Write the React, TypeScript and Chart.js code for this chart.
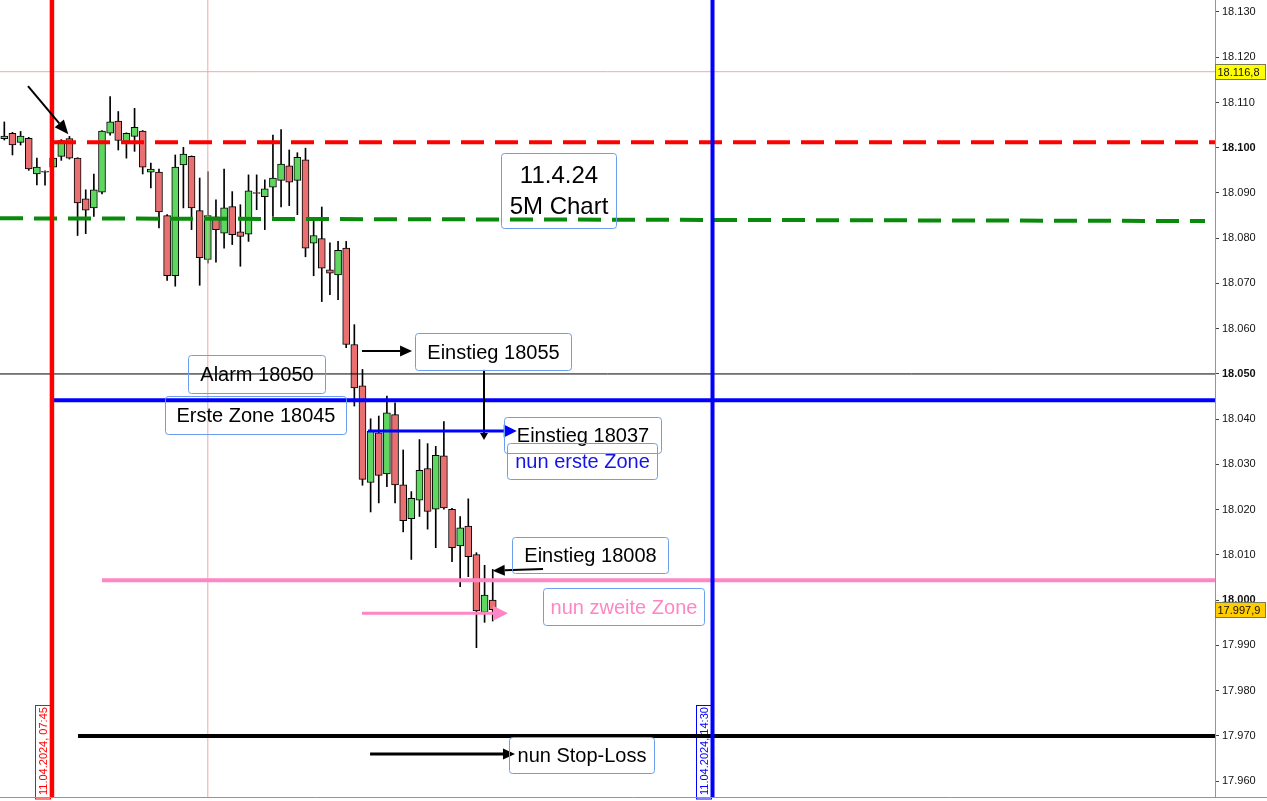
import { useEffect, useRef } from "react";
import { Chart, registerables } from "chart.js";

Chart.register(...registerables);

const FONT = '"Liberation Sans", Arial, Helvetica, sans-serif';

// 5-minute candles of 11.04.2024, first candle 07:15
const opens = [
  18102.0, 18103.2, 18101.2, 18102.1, 18094.2, 18094.8, 18095.7, 18098.1, 18102.0, 18097.7,
  18088.7, 18086.7, 18090.2, 18103.2, 18105.9, 18101.4, 18102.5, 18103.7, 18094.6, 18094.6,
  18085.0, 18071.7, 18096.2, 18098.1, 18086.1, 18075.3, 18084.7, 18081.1, 18087.0, 18081.4,
  18080.9, 18090.1, 18089.2, 18091.3, 18092.8, 18096.0, 18092.8, 18097.3, 18078.9, 18079.9,
  18073.0, 18071.9, 18077.8, 18056.5, 18047.4, 18026.0, 18037.0, 18027.9, 18041.0, 18025.5,
  18018.0, 18022.1, 18029.1, 18020.1, 18031.9, 18020.1, 18012.0, 18016.4, 18010.1, 17997.3,
  18000.0,
];
const highs = [
  18105.7, 18103.4, 18103.6, 18102.3, 18097.7, 18094.9, 18098.2, 18101.8, 18102.5, 18097.8,
  18090.7, 18094.2, 18103.8, 18111.3, 18108.0, 18103.3, 18108.7, 18103.8, 18096.6, 18095.3,
  18085.2, 18098.4, 18100.1, 18098.2, 18093.3, 18094.7, 18088.5, 18095.3, 18090.3, 18087.4,
  18094.0, 18094.0, 18092.9, 18102.8, 18104.0, 18099.5, 18098.9, 18099.9, 18084.1, 18086.9,
  18079.0, 18079.3, 18079.3, 18060.9, 18051.0, 18040.1, 18040.7, 18045.1, 18043.6, 18033.2,
  18024.0, 18035.5, 18034.6, 18034.0, 18039.5, 18020.3, 18018.5, 18022.4, 18010.5, 18007.7,
  18006.8,
];
const lows = [
  18101.7, 18098.4, 18100.6, 18095.0, 18091.8, 18091.7, 18095.3, 18097.2, 18097.5, 18080.6,
  18081.0, 18084.8, 18089.8, 18102.8, 18099.5, 18097.7, 18099.2, 18094.2, 18091.1, 18082.3,
  18070.7, 18069.4, 18086.7, 18081.9, 18069.6, 18074.5, 18074.7, 18077.8, 18078.6, 18073.8,
  18079.3, 18086.3, 18081.9, 18084.8, 18086.9, 18087.2, 18085.2, 18075.9, 18071.7, 18066.0,
  18067.5, 18066.4, 18055.8, 18042.9, 18025.4, 18019.5, 18021.5, 18025.1, 18021.5, 18015.1,
  18009.0, 18018.5, 18015.7, 18011.6, 18020.1, 18008.5, 18003.0, 18005.2, 17989.5, 17995.1,
  17995.4,
];
const closes = [
  18102.6, 18100.6, 18102.6, 18095.3, 18095.7, 18094.6, 18097.7, 18101.6, 18097.7, 18087.8,
  18086.2, 18090.7, 18103.7, 18105.7, 18101.6, 18103.2, 18104.5, 18095.7, 18095.3, 18085.8,
  18071.7, 18095.7, 18098.6, 18086.7, 18075.7, 18085.0, 18081.9, 18086.7, 18080.8, 18080.4,
  18090.5, 18089.9, 18090.9, 18093.3, 18096.4, 18092.4, 18097.9, 18077.8, 18080.6, 18073.4,
  18072.3, 18077.3, 18056.5, 18046.9, 18026.7, 18037.4, 18027.6, 18041.4, 18025.5, 18017.6,
  18022.5, 18028.7, 18019.6, 18032.0, 18020.4, 18011.6, 18016.0, 18009.6, 17997.6, 18001.1,
  17997.9,
];

// visible value window and candle-index window
const yMin = 17956.5;
const yMax = 18132.65;
const yStep = 10;
const xMin = -0.53;
const xMax = 148.73;

// horizontal levels
const levelRed = 18101.2;
const levelGreenStart = 18084.4;
const levelGreenEnd = 18083.8;
const levelAlarm = 18050;
const levelFirstZone = 18044.2;
const levelSecondZone = 18004.4;
const levelStopLoss = 17970;
const levelDayHigh = 18116.8;
const lastPrice = 17997.9;

// time markers (candle index) and their labels
const markerIdx = [5.85, 87];
const markerLabels = ["11.04.2024, 07:45", "11.04.2024, 14:30"];
const markerColors = ["#ff0000", "#0000ff"];
const crosshairIdx = 25;

const GREEN = "#5fd65f";
const RED = "#e87070";
const PINK = "#ff86c4";
const BOX_BORDER = "#6c9ef0";

type Note = { lines: string[]; x0: number; x1: number; y0: number; y1: number; color: string; size: number };
const notes: Note[] = [
  { lines: ["11.4.24", "5M Chart"], x0: 60.98, x1: 75.11, y0: 18098.9, y1: 18082.2, color: "#000", size: 24 },
  { lines: ["Einstieg 18055"], x0: 50.45, x1: 69.62, y0: 18059.0, y1: 18050.9, color: "#000", size: 20 },
  { lines: ["Alarm 18050"], x0: 22.57, x1: 39.4, y0: 18054.2, y1: 18045.8, color: "#000", size: 20 },
  { lines: ["Erste Zone 18045"], x0: 19.74, x1: 41.98, y0: 18045.1, y1: 18036.7, color: "#000", size: 20 },
  { lines: ["Einstieg 18037"], x0: 61.39, x1: 80.68, y0: 18040.5, y1: 18032.6, color: "#000", size: 20 },
  { lines: ["nun erste Zone"], x0: 61.72, x1: 80.22, y0: 18034.8, y1: 18026.8, color: "#1414e6", size: 20 },
  { lines: ["Einstieg 18008"], x0: 62.33, x1: 81.57, y0: 18014.0, y1: 18005.9, color: "#000", size: 20 },
  { lines: ["nun zweite Zone"], x0: 66.14, x1: 85.99, y0: 18002.8, y1: 17994.6, color: PINK, size: 20 },
  { lines: ["nun Stop-Loss"], x0: 62.0, x1: 79.82, y0: 17969.7, y1: 17961.7, color: "#000", size: 20 },
];

type Arrow = { from: [number, number]; to: [number, number]; color: string; width: number; head: number; headW: number };
const arrows: Arrow[] = [
  { from: [2.91, 18113.6], to: [7.86, 18103.0], color: "#000", width: 2, head: 14, headW: 12 },
  { from: [43.94, 18055.1], to: [50.09, 18055.1], color: "#000", width: 2, head: 12, headW: 11 },
  { from: [58.93, 18050.9], to: [58.93, 18035.4], color: "#000", width: 2, head: 7, headW: 8 },
  { from: [44.68, 18037.4], to: [62.95, 18037.4], color: "#0000ff", width: 3, head: 13, headW: 13 },
  { from: [66.18, 18006.9], to: [60.0, 18006.5], color: "#000", width: 2, head: 12, headW: 11 },
  { from: [43.94, 17997.1], to: [61.88, 17997.1], color: PINK, width: 3, head: 15, headW: 15 },
  { from: [44.93, 17966.0], to: [62.74, 17966.0], color: "#000", width: 3, head: 12, headW: 11 },
];

const thousands = (s: string) => s.replace(/\B(?=(\d{3})+(?!\d))/g, ".");
const fmtTick = (v: number) => thousands(String(Math.round(v)));
const fmtPrice = (v: number) => {
  const [i, d] = v.toFixed(1).split(".");
  return thousands(i) + "," + d;
};

function drawArrow(ctx: CanvasRenderingContext2D, x1: number, y1: number, x2: number, y2: number, a: Arrow) {
  const ang = Math.atan2(y2 - y1, x2 - x1);
  const bx = x2 - a.head * Math.cos(ang);
  const by = y2 - a.head * Math.sin(ang);
  ctx.strokeStyle = a.color;
  ctx.lineWidth = a.width;
  ctx.lineCap = "butt";
  ctx.beginPath();
  ctx.moveTo(x1, y1);
  ctx.lineTo(bx, by);
  ctx.stroke();
  ctx.fillStyle = a.color;
  ctx.beginPath();
  ctx.moveTo(x2, y2);
  ctx.lineTo(bx + (a.headW / 2) * Math.sin(ang), by - (a.headW / 2) * Math.cos(ang));
  ctx.lineTo(bx - (a.headW / 2) * Math.sin(ang), by + (a.headW / 2) * Math.cos(ang));
  ctx.closePath();
  ctx.fill();
}

function roundRect(ctx: CanvasRenderingContext2D, x: number, y: number, w: number, h: number, r: number) {
  ctx.beginPath();
  ctx.moveTo(x + r, y);
  ctx.lineTo(x + w - r, y);
  ctx.arcTo(x + w, y, x + w, y + r, r);
  ctx.lineTo(x + w, y + h - r);
  ctx.arcTo(x + w, y + h, x + w - r, y + h, r);
  ctx.lineTo(x + r, y + h);
  ctx.arcTo(x, y + h, x, y + h - r, r);
  ctx.lineTo(x, y + r);
  ctx.arcTo(x, y, x + r, y, r);
  ctx.closePath();
}

const notesPlugin = {
  id: "chartNotes",
  beforeDatasetsDraw(chart: any) {
    const { ctx, scales, chartArea } = chart;
    const xs = scales.x;
    const ys = scales.y;
    ctx.save();
    markerIdx.forEach((idx, k) => {
      const lx = xs.getPixelForValue(idx);
      const top = Math.round(ys.getPixelForValue(17976.8)) + 0.5;
      const bottom = chartArea.bottom;
      const left = Math.round(lx) - 16.5;
      ctx.fillStyle = "#fff";
      ctx.fillRect(left, top, 15, bottom - top);
      ctx.strokeStyle = markerColors[k];
      ctx.lineWidth = 1;
      ctx.strokeRect(left, top, 15, bottom - top + 2);
      ctx.translate(left + 8, bottom - 2);
      ctx.rotate(-Math.PI / 2);
      ctx.fillStyle = markerColors[k];
      ctx.font = `11px ${FONT}`;
      ctx.textAlign = "left";
      ctx.textBaseline = "middle";
      ctx.fillText(markerLabels[k], 0, 0);
      ctx.setTransform(1, 0, 0, 1, 0, 0);
    });
    ctx.restore();
  },
  afterDatasetsDraw(chart: any) {
    const { ctx, scales } = chart;
    const xs = scales.x;
    const ys = scales.y;
    ctx.save();
    arrows.forEach((a) => {
      drawArrow(
        ctx,
        xs.getPixelForValue(a.from[0]),
        ys.getPixelForValue(a.from[1]),
        xs.getPixelForValue(a.to[0]),
        ys.getPixelForValue(a.to[1]),
        a
      );
    });
    notes.forEach((n) => {
      const x0 = Math.round(xs.getPixelForValue(n.x0)) + 0.5;
      const x1 = Math.round(xs.getPixelForValue(n.x1)) + 0.5;
      const y0 = Math.round(ys.getPixelForValue(n.y0)) + 0.5;
      const y1 = Math.round(ys.getPixelForValue(n.y1)) + 0.5;
      ctx.strokeStyle = BOX_BORDER;
      ctx.lineWidth = 1;
      roundRect(ctx, x0, y0, x1 - x0, y1 - y0, 3);
      ctx.stroke();
      ctx.fillStyle = n.color;
      ctx.font = `${n.size}px ${FONT}`;
      ctx.textAlign = "center";
      ctx.textBaseline = "middle";
      const cx = (x0 + x1) / 2;
      const cy = (y0 + y1) / 2 + 1;
      const lh = n.size * 1.32;
      n.lines.forEach((t, i) => {
        ctx.fillText(t, cx, cy + (i - (n.lines.length - 1) / 2) * lh);
      });
    });
    ctx.restore();
  },
  afterDraw(chart: any) {
    const { ctx, scales, chartArea, width } = chart;
    const ys = scales.y;
    ctx.save();
    // bottom border of the price pane
    ctx.strokeStyle = "#8a98a6";
    ctx.lineWidth = 1;
    ctx.beginPath();
    ctx.moveTo(0, chartArea.bottom + 0.5);
    ctx.lineTo(width, chartArea.bottom + 0.5);
    ctx.stroke();
    // price tags on the axis
    const tags: [number, string][] = [
      [levelDayHigh, "#ffff00"],
      [lastPrice, "#ffcc00"],
    ];
    tags.forEach(([v, fill]) => {
      const y = Math.round(ys.getPixelForValue(v));
      const x = chartArea.right + 0.5;
      ctx.fillStyle = fill;
      ctx.fillRect(x, y - 7.5, 50, 15);
      ctx.strokeStyle = "#7a7a50";
      ctx.strokeRect(x, y - 7.5, 50, 15);
      ctx.fillStyle = "#111";
      ctx.font = `11px ${FONT}`;
      ctx.textAlign = "left";
      ctx.textBaseline = "middle";
      ctx.fillText(fmtPrice(v), x + 2, y + 0.5);
    });
    ctx.restore();
  },
};

const hLine = (x0: number, y0: number, x1: number, y1: number, color: string, width: number, dash: number[] = [], order = 1) => ({
  type: "line" as const,
  data: [
    { x: x0, y: y0 },
    { x: x1, y: y1 },
  ],
  borderColor: color,
  borderWidth: width,
  borderDash: dash,
  borderCapStyle: "butt" as const,
  pointRadius: 0,
  fill: false,
  tension: 0,
  order,
});

export default function App() {
  const ref = useRef<HTMLCanvasElement>(null);

  useEffect(() => {
    const canvas = ref.current;
    if (!canvas) return;
    const idx = opens.map((_, i) => i);
    const chart = new Chart(canvas, {
      type: "bar",
      data: {
        datasets: [
          // levels and markers (drawn above the candles)
          hLine(xMin, levelDayHigh, xMax, levelDayHigh, "#f2a8a8", 1, [], 5),
          hLine(crosshairIdx, yMin, crosshairIdx, yMax, "#f2a8a8", 1, [], 5),
          hLine(xMin, levelAlarm, xMax, levelAlarm, "#000", 1, [], 4),
          hLine(xMin, levelGreenStart, 147.5, levelGreenEnd, "#0a8a0a", 4, [23, 11], 3),
          hLine(5.98, levelRed, xMax, levelRed, "#ff0000", 4, [23, 11], 3),
          hLine(5.9, levelFirstZone, xMax, levelFirstZone, "#0000ff", 4, [], 3),
          hLine(12.0, levelSecondZone, xMax, levelSecondZone, PINK, 4, [], 3),
          hLine(9.05, levelStopLoss, xMax, levelStopLoss, "#000", 4, [], 3),
          hLine(markerIdx[0], yMin, markerIdx[0], yMax, markerColors[0], 4.5, [], 0),
          hLine(markerIdx[1], yMin, markerIdx[1], yMax, markerColors[1], 4, [], 0),
          // candle bodies
          {
            type: "bar" as const,
            data: idx.map((i) => ({ x: i, y: [opens[i], closes[i]] })),
            backgroundColor: idx.map((i) => (closes[i] >= opens[i] ? GREEN : RED)),
            borderColor: "#000",
            borderWidth: 1,
            borderSkipped: false,
            barThickness: 7,
            grouped: false,
            order: 10,
          },
          // candle wicks
          {
            type: "bar" as const,
            data: idx.map((i) => ({ x: i, y: [lows[i], highs[i]] })),
            backgroundColor: "#000",
            borderWidth: 0,
            barThickness: 1,
            grouped: false,
            order: 11,
          },
        ] as any,
      },
      options: {
        responsive: false,
        animation: false,
        devicePixelRatio: 1,
        events: [],
        layout: { padding: { top: 0, right: 0, bottom: 4, left: 0 } },
        plugins: { legend: { display: false }, tooltip: { enabled: false } },
        scales: {
          x: {
            type: "linear",
            min: xMin,
            max: xMax,
            offset: false,
            display: false,
          },
          y: {
            type: "linear",
            position: "right",
            min: yMin,
            max: yMax,
            afterFit: (s: any) => {
              s.width = 52;
              s.paddingTop = 0;
              s.paddingBottom = 0;
            },
            border: { display: true, color: "#8a98a6", width: 1 },
            grid: { drawOnChartArea: false, drawTicks: true, tickLength: 4, color: "#444" },
            ticks: {
              stepSize: yStep,
              includeBounds: false,
              autoSkip: false,
              padding: 3,
              color: "#111",
              font: (c: any) => ({
                family: FONT,
                size: 11,
                weight: c.tick && Math.round(c.tick.value) % 50 === 0 ? "bold" : "normal",
              }),
              callback: (v: any) => fmtTick(Number(v)),
            },
          },
        },
      } as any,
      plugins: [notesPlugin],
    });
    return () => chart.destroy();
  }, []);

  return (
    <div style={{ position: "fixed", left: 0, top: 0, width: 1267, height: 801, background: "#fff" }}>
      <canvas ref={ref} width={1267} height={801} style={{ display: "block" }} />
    </div>
  );
}
